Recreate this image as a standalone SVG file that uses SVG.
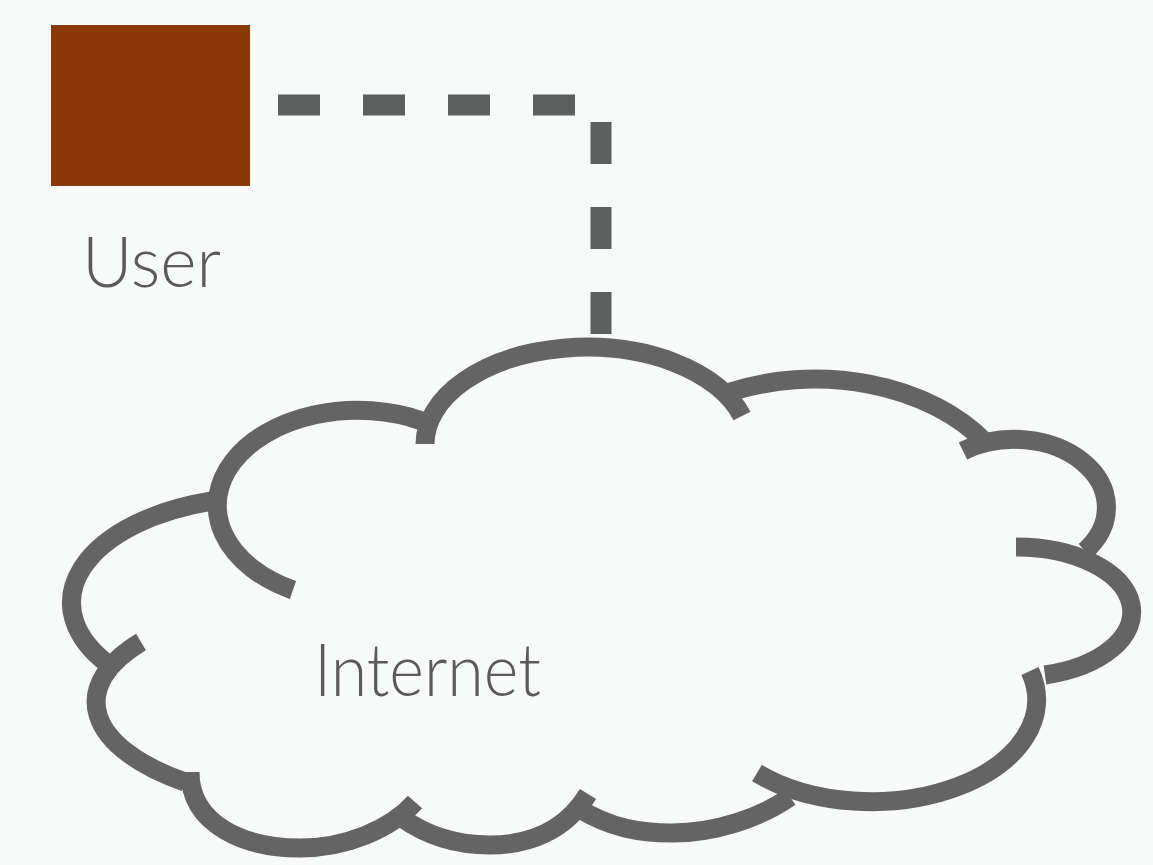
<svg xmlns="http://www.w3.org/2000/svg" width="1153" height="865" viewBox="0 0 1153 865">
  <style>
    .lobe { fill: none; stroke: #646464; stroke-width: 19; stroke-linecap: butt; }
    .label { font-family: "Lato", "Open Sans", "Liberation Sans", sans-serif; font-weight: 300; fill: #5a5a5a; }
    .link { fill: none; stroke: #5b5f5e; stroke-width: 21; stroke-dasharray: 42 43; stroke-linecap: butt; }
  </style>
  <rect x="0" y="0" width="1153" height="865" fill="#f8f9f9"/>
  <g id="connectors">
    <path class="link" d="M278,105 L601,105 L601,335"/>
  </g>
  <g id="user">
    <rect x="51" y="25" width="199" height="161" fill="#8a3806"/>
    <text class="label" x="82" y="287" font-size="70" textLength="139" lengthAdjust="spacingAndGlyphs">User</text>
  </g>
  <g id="internet">
    <path class="lobe" d="M212,501 A196,106 0 0 0 109,665"/>
    <path class="lobe" d="M141,642 A240,103 0 0 0 185,782"/>
    <path class="lobe" d="M190,772 C190,825 245,848 300,848 C345,848 390,830 415,802"/>
    <path class="lobe" d="M402,818 C430,838 460,845 490,845 C530,845 566,830 588,794"/>
    <path class="lobe" d="M578,808 C610,828 640,833 672,833 C715,833 760,818 790,797"/>
    <path class="lobe" d="M757,773 A165,102 0 0 0 1030,671"/>
    <path class="lobe" d="M1016,547 A115,65 0 0 1 1045,675"/>
    <path class="lobe" d="M963,451 A92,68 0 0 1 1085,551"/>
    <path class="lobe" d="M727,393 A205,143 0 0 1 985,442"/>
    <path class="lobe" d="M425,444 A162,97 0 0 1 742,416"/>
    <path class="lobe" d="M293,590 A140,95 0 1 1 422,421"/>
    <text class="label" x="314" y="696" font-size="72" textLength="227" lengthAdjust="spacingAndGlyphs">Internet</text>
  </g>
</svg>
